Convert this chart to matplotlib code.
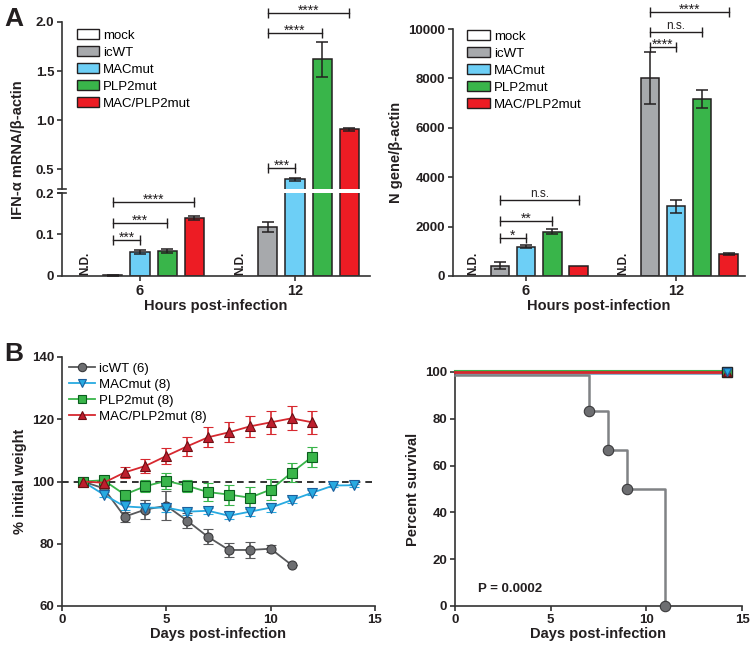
import matplotlib
matplotlib.use('Agg')
import matplotlib.pyplot as plt
import numpy as np
from matplotlib.patches import Patch
from matplotlib.lines import Line2D

plt.rcParams['font.family'] = ['Liberation Sans', 'DejaVu Sans']
plt.rcParams['font.weight'] = 'bold'
plt.rcParams['axes.labelweight'] = 'bold'

TXT = '#231f20'

# ---------------- data ----------------
groups = ['mock', 'icWT', 'MACmut', 'PLP2mut', 'MAC/PLP2mut']
hours = ['6', '12']
bar_colors = ['#ffffff', '#a7a9ac', '#6dcff6', '#39b54a', '#ed1c24']

# IFN-alpha mRNA / beta-actin (mock = not detected)
ifn_6h = [np.nan, 0.002, 0.058, 0.060, 0.140]
ifn_6h_err = [0, 0.001, 0.005, 0.004, 0.005]
ifn_12h = [np.nan, 0.118, 0.40, 1.62, 0.91]
ifn_12h_err = [0, 0.013, 0.015, 0.175, 0.015]

# N gene / beta-actin
ngene_6h = [np.nan, 420, 1180, 1800, 390]
ngene_6h_err = [0, 150, 60, 100, 0]
ngene_12h = [np.nan, 8000, 2830, 7170, 900]
ngene_12h_err = [0, 1050, 260, 370, 40]

# significance: (hour index, group a, group b, label)
ifn_sig = [(0, 1, 2, '***'), (0, 1, 3, '***'), (0, 1, 4, '****'),
           (1, 1, 2, '***'), (1, 1, 3, '****'), (1, 1, 4, '****')]
ifn_sig_y = [0.087, 0.128, 0.178, 0.513, 1.888, 2.092]
ngene_sig = [(0, 1, 2, '*'), (0, 1, 3, '**'), (0, 1, 4, 'n.s.'),
             (1, 1, 2, '****'), (1, 1, 3, 'n.s.'), (1, 1, 4, '****')]
ngene_sig_y = [1545, 2236, 3090, 9270, 9880, 10690]

# weight (% initial)
days = list(range(1, 15))
w_icwt = [100, 97.8, 88.7, 91.0, 92.2, 87.4, 82.2, 78.0, 78.0, 78.4, 73.2]
w_icwt_err = [0, 0.6, 1.6, 3.0, 4.6, 2.5, 2.4, 2.2, 2.6, 1.1, 0]
w_mac = [100, 95.8, 92.0, 91.6, 91.6, 90.3, 90.6, 89.0, 90.3, 91.6, 94.0, 96.4, 98.7, 98.8]
w_mac_err = [0, 0.8, 1.0, 1.5, 1.5, 1.0, 1.0, 1.2, 1.5, 1.5, 1.0, 0.8, 0.5, 0.5]
w_plp2 = [100, 100.4, 95.8, 98.5, 100.2, 98.6, 96.6, 95.8, 94.8, 97.4, 102.8, 108.0]
w_plp2_err = [0, 1.0, 1.2, 2.0, 2.5, 2.0, 3.0, 3.2, 3.5, 3.5, 3.1, 3.2]
w_mp = [100, 99.6, 102.9, 105.0, 108.2, 111.3, 114.2, 115.8, 117.7, 119.0, 120.3, 119.0]
w_mp_err = [0, 0.5, 1.9, 2.3, 2.7, 3.0, 3.2, 3.2, 3.5, 3.8, 3.9, 3.8]
w_labels = ['icWT (6)', 'MACmut (8)', 'PLP2mut (8)', 'MAC/PLP2mut (8)']

# survival
surv_icwt_days = [0, 7, 8, 9, 11]
surv_icwt = [98.8, 83.3, 66.7, 50.0, 0.0]
surv_end_day = 14.2

# ---------------- figure ----------------
fig = plt.figure(figsize=(7.5, 6.51), dpi=100)


def fr(l, t, r, b):
    return [l / 750, 1 - b / 651, (r - l) / 750, (b - t) / 651]


def style(ax, bottom=True):
    for s in ['top', 'right']:
        ax.spines[s].set_visible(False)
    for s in ['left', 'bottom']:
        ax.spines[s].set_linewidth(1.2)
        ax.spines[s].set_color('#333333')
    ax.tick_params(direction='out', length=3.5, width=1.2, colors='#333333',
                   labelcolor=TXT, labelsize=9.5, pad=2)
    for lab in ax.get_xticklabels() + ax.get_yticklabels():
        lab.set_fontweight('bold')
    if not bottom:
        ax.spines['bottom'].set_visible(False)
        ax.tick_params(axis='x', which='both', bottom=False, labelbottom=False)


offsets = (np.arange(5) - 2) * 0.175
bw = 0.123


def draw_bars(axes_list, vals_by_hour, errs_by_hour, nd_ax, nd_y):
    for gi in range(2):
        vals = vals_by_hour[gi]
        errs = errs_by_hour[gi]
        for k in range(5):
            x = gi + offsets[k]
            if np.isnan(vals[k]):
                nd_ax.text(x, nd_y, 'N.D.', rotation=90, ha='center', va='bottom',
                           fontsize=8.5, fontweight='bold', color=TXT)
                continue
            for ax in axes_list:
                ax.bar(x, vals[k], width=bw, color=bar_colors[k], edgecolor=TXT,
                       linewidth=1.1, zorder=2)
                if errs[k] > 0:
                    ax.errorbar(x, vals[k], yerr=errs[k], color=TXT, lw=1.1,
                                capsize=4, capthick=1.1, zorder=3)


def bracket(ax, x1, x2, y, label):
    ax.plot([x1, x2], [y, y], color=TXT, lw=1.0, marker='|', ms=6.5, mew=1.0,
            clip_on=False, zorder=4)
    if '*' in label:
        ax.annotate(label, ((x1 + x2) / 2, y), xytext=(0, -1.5), textcoords='offset points',
                    ha='center', va='baseline', fontsize=10, fontweight='normal',
                    color=TXT, annotation_clip=False)
    else:
        ax.annotate(label, ((x1 + x2) / 2, y), xytext=(0, 2.0), textcoords='offset points',
                    ha='center', va='baseline', fontsize=8.5, fontweight='normal',
                    color=TXT, annotation_clip=False)


def legend_handles():
    return [Patch(facecolor=c, edgecolor=TXT, linewidth=1.0, label=g)
            for c, g in zip(bar_colors, groups)]


# ---- Panel A left (broken axis) ----
axU = fig.add_axes(fr(62, 22, 370, 189))
axL = fig.add_axes(fr(62, 193, 370, 276))
xl = (-0.503, 1.484)
for ax in (axU, axL):
    ax.set_xlim(*xl)
axU.set_ylim(0.3, 2.0)
axL.set_ylim(0, 0.2)
draw_bars([axU, axL], [ifn_6h, ifn_12h], [ifn_6h_err, ifn_12h_err], axL, 0.003)
axU.set_yticks([0.5, 1.0, 1.5, 2.0])
axU.set_yticklabels(['0.5', '1.0', '1.5', '2.0'])
axL.set_yticks([0, 0.1, 0.2])
axL.set_yticklabels(['0', '0.1', '0.2'])
axL.set_xticks([0, 1])
axL.set_xticklabels(hours)
style(axU, bottom=False)
style(axL)
axL.tick_params(axis='x', labelsize=10.5)
for lab in axL.get_xticklabels():
    lab.set_fontweight('bold')
# break marks
for ax, yy in ((axU, 0), (axL, 1)):
    ax.plot([-0.014, 0.014], [yy, yy], transform=ax.transAxes, color='#333333',
            lw=1.2, clip_on=False)
for (gi, a, b, lab), yv in zip(ifn_sig, ifn_sig_y):
    ax = axL if yv < 0.2 else axU
    bracket(ax, gi + offsets[a], gi + offsets[b], yv, lab)
axL.set_xlabel('Hours post-infection', fontsize=10.5, color=TXT, labelpad=1)
fig.text(18 / 750, 1 - 150 / 651, 'IFN-α mRNA/β-actin', rotation=90, ha='center',
         va='center', fontsize=10.5, fontweight='bold', color=TXT)
axU.legend(handles=legend_handles(), loc='upper left', bbox_to_anchor=(0.03, 0.988),
           frameon=False, handlelength=1.7, handleheight=0.75,
           handletextpad=0.3, labelspacing=0.35, borderaxespad=0,
           prop={'weight': 'normal', 'size': 9.5})

# ---- Panel A right ----
axN = fig.add_axes(fr(453, 29, 745, 276))
axN.set_xlim(-0.487, 1.46)
axN.set_ylim(0, 10000)
draw_bars([axN], [ngene_6h, ngene_12h], [ngene_6h_err, ngene_12h_err], axN, 60)
axN.set_yticks(range(0, 10001, 2000))
axN.set_xticks([0, 1])
axN.set_xticklabels(hours)
style(axN)
axN.tick_params(axis='x', labelsize=10.5)
for lab in axN.get_xticklabels():
    lab.set_fontweight('bold')
for (gi, a, b, lab), yv in zip(ngene_sig, ngene_sig_y):
    bracket(axN, gi + offsets[a], gi + offsets[b], yv, lab)
axN.set_xlabel('Hours post-infection', fontsize=10.5, color=TXT, labelpad=1)
axN.set_ylabel('N gene/β-actin', fontsize=10.5, color=TXT, labelpad=4)
axN.legend(handles=legend_handles(), loc='upper left', bbox_to_anchor=(0.031, 1.017),
           frameon=False, handlelength=1.7, handleheight=0.75,
           handletextpad=0.3, labelspacing=0.35, borderaxespad=0,
           prop={'weight': 'normal', 'size': 9.5})

# ---- Panel B left: weight ----
axW = fig.add_axes(fr(62, 357, 375, 606))
axW.set_xlim(0, 15)
axW.set_ylim(60, 140)
axW.axhline(100, color='#111111', lw=1.2, ls=(0, (4, 3)), zorder=1)
series = [
    (w_icwt, w_icwt_err, '#58595b', 'o', '#6d6e71', '#3a3a3c'),
    (w_mac, w_mac_err, '#27aae1', 'v', '#27aae1', '#1c5f9c'),
    (w_plp2, w_plp2_err, '#39b54a', 's', '#39b54a', '#0b5d1e'),
    (w_mp, w_mp_err, '#d7282f', '^', '#be1e2d', '#6d0f14'),
]
handles = []
for (vals, errs, lc, mk, fc, ec), lab in zip(series, w_labels):
    d = days[:len(vals)]
    axW.errorbar(d, vals, yerr=errs, color=lc, lw=1.3, capsize=3.5, capthick=1.2,
                 elinewidth=1.2, marker=mk, ms=6.5, mfc=fc, mec=ec, mew=0.8, zorder=3)
    handles.append(Line2D([0], [0], color=lc, lw=1.3, marker=mk, ms=6, mfc=fc, mec=ec,
                          mew=0.8, label=lab))
axW.set_xticks([0, 5, 10, 15])
axW.set_yticks([60, 80, 100, 120, 140])
style(axW)
axW.set_xlabel('Days post-infection', fontsize=10.5, color=TXT, labelpad=1)
axW.set_ylabel('% initial weight', fontsize=10.5, color=TXT, labelpad=4)
axW.legend(handles=handles, loc='upper left', bbox_to_anchor=(0.005, 1.0), frameon=False,
           handlelength=2.0, handletextpad=0.3, labelspacing=0.3, borderaxespad=0,
           prop={'weight': 'normal', 'size': 9.5})

# ---- Panel B right: survival ----
axS = fig.add_axes(fr(455, 372, 742, 606))
axS.set_xlim(0, 15)
axS.set_ylim(0, 100)
axS.plot([0, surv_end_day], [100.5, 100.5], color='#39b54a', lw=1.5, clip_on=False, zorder=2)
axS.plot([0, surv_end_day], [100, 100], color='#d7282f', lw=2.0, clip_on=False, zorder=3)
axS.plot([0, surv_end_day], [99.2, 99.2], color='#7fa9c9', lw=1.3, clip_on=False, zorder=2)
axS.step(surv_icwt_days, surv_icwt, where='post', color='#808285', lw=1.8, zorder=3,
         clip_on=False)
axS.plot(surv_icwt_days[1:], surv_icwt[1:], ls='none', marker='o', ms=7.5,
         mfc='#6d6e71', mec='#3a3a3c', mew=0.8, clip_on=False, zorder=4)
axS.plot([surv_end_day], [100], ls='none', marker='s', ms=7, mfc='#39b54a', mec='#222222',
         clip_on=False, zorder=5)
axS.plot([surv_end_day], [100], ls='none', marker='^', ms=6, mfc='#be1e2d', mec='#6d0f14',
         clip_on=False, zorder=6)
axS.plot([surv_end_day], [100], ls='none', marker='v', ms=6, mfc='#27aae1', mec='#1c5f9c',
         clip_on=False, zorder=7)
axS.set_xticks([0, 5, 10, 15])
axS.set_yticks([0, 20, 40, 60, 80, 100])
style(axS)
axS.set_xlabel('Days post-infection', fontsize=10.5, color=TXT, labelpad=1)
axS.set_ylabel('Percent survival', fontsize=10.5, color=TXT, labelpad=4)
axS.text(0.08, 0.045, 'P = 0.0002', transform=axS.transAxes, fontsize=9.5,
         fontweight='bold', color=TXT, ha='left', va='bottom')

# panel letters
fig.text(14 / 750, 1 - 19 / 651, 'A', fontsize=19, fontweight='bold', ha='center',
         va='center', color=TXT)
fig.text(14 / 750, 1 - 354 / 651, 'B', fontsize=19, fontweight='bold', ha='center',
         va='center', color=TXT)

fig.savefig('out.png', dpi=100)
